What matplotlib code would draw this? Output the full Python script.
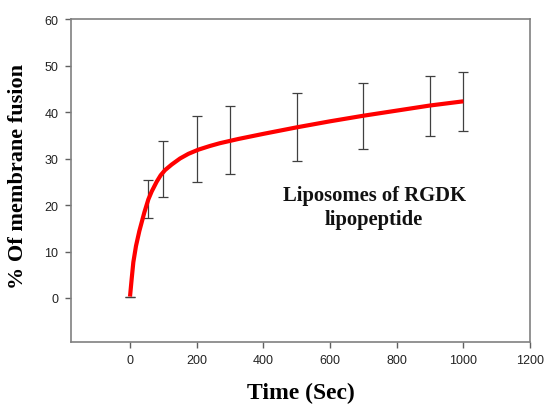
import matplotlib
matplotlib.use("Agg")
import matplotlib.pyplot as plt

# Error-bar data (time in s, lower/upper bounds of % fusion)
err_time = [0, 55, 100, 200, 300, 500, 700, 900, 1000]
err_low = [0.15, 17.2, 21.8, 24.9, 26.6, 29.4, 32.1, 34.8, 36.0]
err_high = [0.15, 25.4, 33.7, 39.2, 41.4, 44.0, 46.2, 47.7, 48.5]

# Fitted curve
curve_time = [0, 5, 10, 18, 28, 43, 55, 65, 80, 92, 105, 125, 150, 175, 205,
              240, 270, 325, 400, 500, 600, 700, 800, 900, 1000]
curve_val = [0.3, 4.1, 7.7, 11.2, 14.4, 18.4, 21.2, 22.9, 25.0, 26.4, 27.5,
             28.7, 30.0, 31.0, 31.9, 32.7, 33.3, 34.2, 35.3, 36.7, 38.0, 39.2,
             40.3, 41.4, 42.3]

x_ticks = [0, 200, 400, 600, 800, 1000, 1200]
y_ticks = [0, 10, 20, 30, 40, 50, 60]

fig = plt.figure(figsize=(5.47, 4.06), dpi=100)
ax = fig.add_axes([0.1298, 0.1559, 0.8392, 0.7948])

mid = [(l + h) / 2 for l, h in zip(err_low, err_high)]
lo = [m - l for m, l in zip(mid, err_low)]
hi = [h - m for m, h in zip(mid, err_high)]
ax.errorbar(err_time, mid, yerr=[lo, hi], fmt='none', ecolor='#404040',
            elinewidth=0.9, capsize=3.8, capthick=0.9, zorder=2)
ax.plot(curve_time, curve_val, color='#ff0000', lw=3.0, zorder=3,
        solid_capstyle='butt', solid_joinstyle='round')

ax.set_xlim(-177, 1200)
ax.set_ylim(-9.4, 60)
ax.set_xticks(x_ticks)
ax.set_yticks(y_ticks)
for s in ax.spines.values():
    s.set_color('#808080')
    s.set_linewidth(1.2)
ax.tick_params(direction='out', length=4, width=1, color='#606060',
               labelsize=9, labelcolor='#222222', pad=5,
               top=False, right=False)
for lab in ax.get_xticklabels() + ax.get_yticklabels():
    lab.set_family('Liberation Sans')

ax.set_xlabel('Time (Sec)', family='Liberation Serif', fontweight='bold',
              fontsize=17, labelpad=11)
ax.set_ylabel('% Of membrane fusion', family='Liberation Serif',
              fontweight='bold', fontsize=16)
ax.yaxis.set_label_coords(-0.094, 0.515)

ax.text(732, 19.6, 'Liposomes of RGDK\nlipopeptide', family='Liberation Serif',
        fontweight='bold', fontsize=14.9, ha='center', va='center',
        linespacing=1.27, color='#111111')

fig.savefig('out.png', dpi=100)
